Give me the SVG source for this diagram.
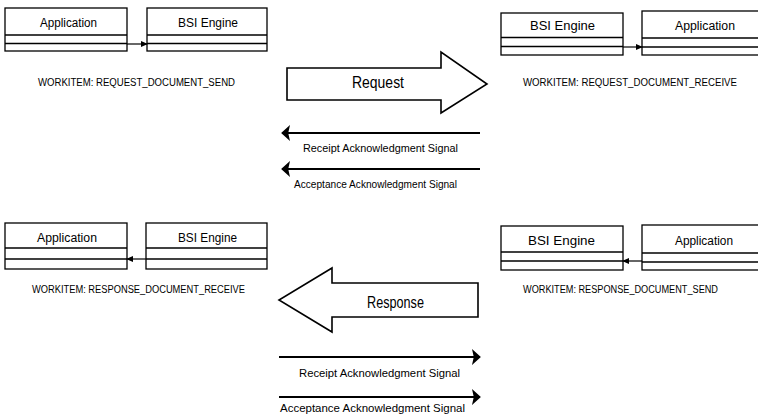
<svg xmlns="http://www.w3.org/2000/svg" width="758" height="416" viewBox="0 0 758 416">
  <style>
    .box { fill: #fff; stroke: #000; stroke-width: 1.3; }
    .sep { stroke: #000; stroke-width: 1.3; fill: none; }
    .title { font-family: "Liberation Sans", Arial, sans-serif; font-size: 12px; fill: #000; text-anchor: start; }
    .wi { font-family: "Liberation Sans", Arial, sans-serif; font-size: 10px; fill: #000; }
    .big { fill: #fff; stroke: #000; stroke-width: 1.6; stroke-linejoin: miter; }
    .bigtxt { font-family: "Liberation Sans", Arial, sans-serif; font-size: 17px; fill: #000; }
    .sig { stroke: #000; stroke-width: 1.8; fill: none; }
    .siglbl { font-family: "Liberation Sans", Arial, sans-serif; font-size: 10.5px; fill: #000; }
    .conn { stroke: #000; stroke-width: 1.2; fill: none; }
  </style>
  <defs>
    <marker id="small" viewBox="0 0 8 8" refX="7" refY="4" markerWidth="7" markerHeight="7" markerUnits="userSpaceOnUse" orient="auto">
      <path d="M0,0.5 L8,4 L0,7.5 z" fill="#000"/>
    </marker>
    <marker id="heavy" viewBox="0 0 10 18" refX="9" refY="9" markerWidth="9" markerHeight="16" markerUnits="userSpaceOnUse" orient="auto">
      <path d="M0,0 L10,9 L0,18 L2,9 z" fill="#000"/>
    </marker>
  </defs>

  <!-- request side: sender -->
  <g id="req-send-app">
    <rect class="box" x="5" y="8" width="122" height="43"/>
    <line class="sep" x1="5" y1="35" x2="127" y2="35"/>
    <line class="sep" x1="5" y1="43.5" x2="127" y2="43.5"/>
    <text class="title" x="40" y="27" textLength="57" lengthAdjust="spacingAndGlyphs">Application</text>
  </g>
  <g id="req-send-bsi">
    <rect class="box" x="147" y="8" width="120" height="43"/>
    <line class="sep" x1="147" y1="35" x2="267" y2="35"/>
    <line class="sep" x1="147" y1="43.5" x2="267" y2="43.5"/>
    <text class="title" x="178" y="27" textLength="60" lengthAdjust="spacingAndGlyphs">BSI Engine</text>
  </g>
  <text class="wi" x="38" y="86" textLength="197" lengthAdjust="spacingAndGlyphs">WORKITEM: REQUEST_DOCUMENT_SEND</text>

  <!-- request side: receiver -->
  <g id="req-recv-bsi">
    <rect class="box" x="501" y="13" width="122" height="42"/>
    <line class="sep" x1="501" y1="37.5" x2="623" y2="37.5"/>
    <line class="sep" x1="501" y1="46.5" x2="623" y2="46.5"/>
    <text class="title" x="530" y="30" textLength="65" lengthAdjust="spacingAndGlyphs">BSI Engine</text>
  </g>
  <g id="req-recv-app">
    <rect class="box" x="642" y="11" width="130" height="44"/>
    <line class="sep" x1="642" y1="38" x2="772" y2="38"/>
    <line class="sep" x1="642" y1="47" x2="772" y2="47"/>
    <text class="title" x="675" y="30" textLength="60" lengthAdjust="spacingAndGlyphs">Application</text>
  </g>
  <text class="wi" x="523" y="86" textLength="214" lengthAdjust="spacingAndGlyphs">WORKITEM: REQUEST_DOCUMENT_RECEIVE</text>

  <!-- response side: receiver -->
  <g id="resp-recv-app">
    <rect class="box" x="5" y="223" width="122" height="46"/>
    <line class="sep" x1="5" y1="248" x2="127" y2="248"/>
    <line class="sep" x1="5" y1="259" x2="127" y2="259"/>
    <text class="title" x="37" y="242" textLength="60" lengthAdjust="spacingAndGlyphs">Application</text>
  </g>
  <g id="resp-recv-bsi">
    <rect class="box" x="146" y="223" width="121" height="46"/>
    <line class="sep" x1="146" y1="248" x2="267" y2="248"/>
    <line class="sep" x1="146" y1="259" x2="267" y2="259"/>
    <text class="title" x="178" y="242" textLength="59" lengthAdjust="spacingAndGlyphs">BSI Engine</text>
  </g>
  <text class="wi" x="32" y="293" textLength="213" lengthAdjust="spacingAndGlyphs">WORKITEM: RESPONSE_DOCUMENT_RECEIVE</text>

  <!-- response side: sender -->
  <g id="resp-send-bsi">
    <rect class="box" x="501" y="226" width="122" height="44"/>
    <line class="sep" x1="501" y1="252" x2="623" y2="252"/>
    <line class="sep" x1="501" y1="261" x2="623" y2="261"/>
    <text class="title" x="528" y="245" textLength="67" lengthAdjust="spacingAndGlyphs">BSI Engine</text>
  </g>
  <g id="resp-send-app">
    <rect class="box" x="642" y="225" width="130" height="45"/>
    <line class="sep" x1="642" y1="253" x2="772" y2="253"/>
    <line class="sep" x1="642" y1="262" x2="772" y2="262"/>
    <text class="title" x="675" y="245" textLength="58" lengthAdjust="spacingAndGlyphs">Application</text>
  </g>
  <text class="wi" x="523" y="293" textLength="195" lengthAdjust="spacingAndGlyphs">WORKITEM: RESPONSE_DOCUMENT_SEND</text>

  <!-- block arrows -->
  <g id="request">
    <path class="big" d="M287,68 L441,68 L441,52 L487,84 L441,113 L441,100 L287,100 z"/>
    <text class="bigtxt" x="352" y="88" textLength="52" lengthAdjust="spacingAndGlyphs">Request</text>
  </g>
  <g id="response">
    <path class="big" d="M478,283 L332,283 L332,268 L279,300 L332,332 L332,317 L478,317 z"/>
    <text class="bigtxt" x="367" y="308" textLength="57" lengthAdjust="spacingAndGlyphs">Response</text>
  </g>

  <!-- connectors -->
  <g id="connectors">
    <line class="conn" x1="127" y1="44" x2="147" y2="44" marker-end="url(#small)"/>
    <line class="conn" x1="623" y1="47" x2="642" y2="47" marker-end="url(#small)"/>
    <line class="conn" x1="146" y1="259" x2="127" y2="259" marker-end="url(#small)"/>
    <line class="conn" x1="642" y1="261" x2="623" y2="261" marker-end="url(#small)"/>

    <line class="sig" x1="480" y1="133" x2="282" y2="133" marker-end="url(#heavy)"/>
    <line class="sig" x1="480" y1="169" x2="282" y2="169" marker-end="url(#heavy)"/>
    <line class="sig" x1="279" y1="357" x2="480" y2="357" marker-end="url(#heavy)"/>
    <line class="sig" x1="279" y1="397" x2="480" y2="397" marker-end="url(#heavy)"/>
  </g>

  <!-- signal labels -->
  <text class="siglbl" x="303" y="152" textLength="155" lengthAdjust="spacingAndGlyphs">Receipt Acknowledgment Signal</text>
  <text class="siglbl" x="294" y="188" textLength="163" lengthAdjust="spacingAndGlyphs">Acceptance Acknowledgment Signal</text>
  <text class="siglbl" x="299" y="377" textLength="161" lengthAdjust="spacingAndGlyphs">Receipt Acknowledgment Signal</text>
  <text class="siglbl" x="280" y="412" textLength="185" lengthAdjust="spacingAndGlyphs">Acceptance Acknowledgment Signal</text>
</svg>
